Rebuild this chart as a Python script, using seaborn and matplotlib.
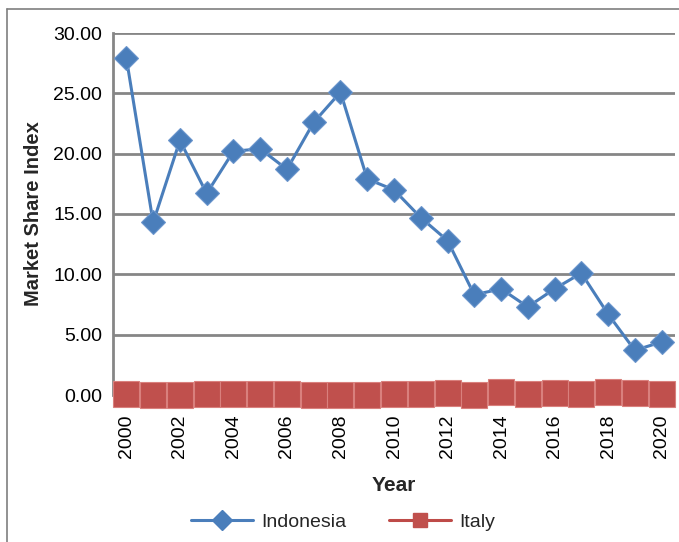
import matplotlib
matplotlib.use("Agg")
import matplotlib.pyplot as plt
from matplotlib.lines import Line2D
import numpy as np
import pandas as pd
import seaborn as sns

years = list(range(2000, 2021))
indonesia = [27.9, 14.3, 21.1, 16.7, 20.2, 20.4, 18.7, 22.6, 25.1, 17.9, 17.0,
             14.7, 12.8, 8.3, 8.8, 7.3, 8.8, 10.1, 6.7, 3.7, 4.4]
italy = [0.05, 0.04, 0.02, 0.06, 0.06, 0.05, 0.05, 0.03, 0.0, 0.01, 0.05,
         0.12, 0.18, 0.04, 0.22, 0.10, 0.15, 0.10, 0.22, 0.15, 0.05]
y_ticks = [0, 5, 10, 15, 20, 25, 30]
x_tick_years = list(range(2000, 2021, 2))

blue_line = "#4A7EBB"
blue_fill = "#4A7EBB"
red_line = "#BE4B48"
red_fill = "#C0504D"

df = pd.DataFrame({"Year": years, "Indonesia": indonesia, "Italy": italy})
long = df.melt(id_vars="Year", var_name="Country", value_name="Index")

sns.set_style("white")
plt.rcParams["font.family"] = ["Liberation Sans", "DejaVu Sans"]

fig = plt.figure(figsize=(6.79, 5.42), dpi=100)
ax = fig.add_axes([113 / 679, 1 - 395 / 542, 562 / 679, 362 / 542])

sns.lineplot(data=long[long.Country == "Indonesia"], x="Year", y="Index",
             ax=ax, color=blue_line, linewidth=2.2, marker="D",
             markersize=12.5, markerfacecolor=blue_fill,
             markeredgecolor="#6A95CC", markeredgewidth=0.8,
             legend=False, zorder=3)
sns.lineplot(data=long[long.Country == "Italy"], x="Year", y="Index",
             ax=ax, color=red_line, linewidth=2.2, marker="s",
             markersize=18.5, markerfacecolor=red_fill,
             markeredgecolor="#D9807D", markeredgewidth=0.8,
             legend=False, zorder=4)
for ln in ax.lines:
    ln.set_clip_on(False)

ax.set_xlim(1999.5, 2020.5)
ax.set_ylim(0, 30)
ax.set_yticks(y_ticks)
ax.set_yticklabels([f"{v:.2f}" for v in y_ticks], fontsize=14)
ax.set_xticks(x_tick_years)
ax.set_xticklabels([str(y) for y in x_tick_years], rotation=90, fontsize=14)
ax.tick_params(axis="both", length=0, colors="black")
ax.tick_params(axis="x", pad=14)
ax.tick_params(axis="y", pad=8)

ax.yaxis.grid(True, color="#868686", linewidth=2)
ax.set_axisbelow(True)
for side in ["top", "right", "bottom"]:
    ax.spines[side].set_visible(False)
ax.spines["left"].set_color("#868686")
ax.spines["left"].set_linewidth(2)

ax.set_xlabel("Year", fontsize=15, fontweight="bold", labelpad=13)
ax.set_ylabel("Market Share Index", fontsize=14.5, fontweight="bold",
              labelpad=7)

handles = [
    Line2D([], [], color=blue_line, linewidth=2.2, marker="D", markersize=10.5,
           markerfacecolor=blue_fill, markeredgecolor=blue_fill),
    Line2D([], [], color=red_line, linewidth=2.2, marker="s", markersize=10,
           markerfacecolor=red_fill, markeredgecolor=red_fill),
]
fig.legend(handles, ["Indonesia", "Italy"], loc="center",
           bbox_to_anchor=(343 / 679, 1 - 522 / 542), ncol=2, frameon=False,
           fontsize=14, handlelength=3.2, columnspacing=2.2, handletextpad=0.4)

# outer frame on the left and top edges
fig.add_artist(Line2D([7 / 679, 7 / 679], [0, 1 - 9 / 542],
                      transform=fig.transFigure, color="#7F7F7F", linewidth=1.2))
fig.add_artist(Line2D([7 / 679, 1], [1 - 9 / 542, 1 - 9 / 542],
                      transform=fig.transFigure, color="#7F7F7F", linewidth=1.2))

fig.savefig("out.png", dpi=100)
